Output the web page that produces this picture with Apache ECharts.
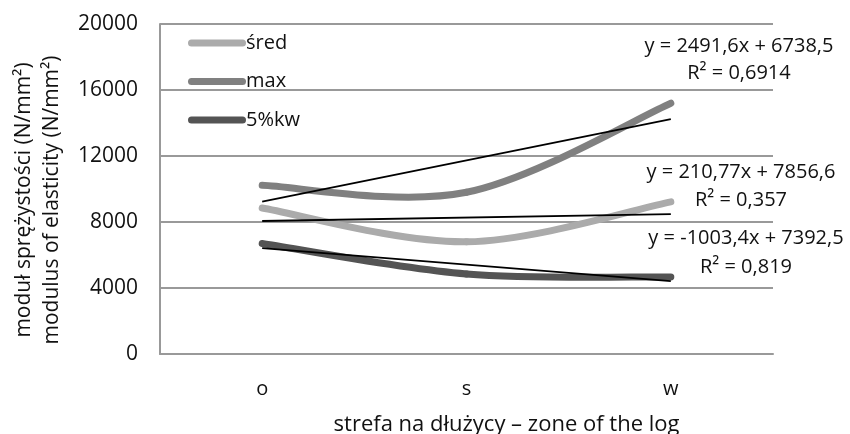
<!DOCTYPE html>
<html>
<head>
<meta charset="utf-8">
<script src="https://cdn.jsdelivr.net/npm/echarts@6/dist/echarts.min.js"></script>
<style>html,body{margin:0;padding:0;background:#fff}#c{width:850px;height:434px}</style>
</head>
<body>
<div id="c"></div>
<script>
const categories = ['o', 's', 'w'];
const seriesNames = ['śred', 'max', '5%kw'];
const sredValues = [8850, 6800, 9220];
const maxValues = [10220, 9800, 15200];
const kwValues = [6700, 4850, 4670];
const trendSred = [8060, '-', 8480];
const trendMax = [9230, '-', 14240];
const trendKw = [6420, '-', 4420];
const yMin = 0, yMax = 20000, yStep = 4000;
const eqMax = ['y = 2491,6x + 6738,5', 'R² = 0,6914'];
const eqSred = ['y = 210,77x + 7856,6', 'R² = 0,357'];
const eqKw = ['y = -1003,4x + 7392,5', 'R² = 0,819'];
const xTitle = 'strefa na dłużycy – zone of the log';
const yTitle = 'moduł sprężystości (N/mm²)\nmodulus of elasticity (N/mm²)';

const FONT = '"Open Sans", sans-serif';
const TXT = '#111';
const colors = ['#ababab', '#808080', '#545454'];

const chart = echarts.init(document.getElementById('c'), null, {renderer: 'canvas'});

// Smoothed curve (spreadsheet-style cardinal spline) drawn through the axis scales
function curve(name, values, color) {
  return {
    name, type: 'custom', coordinateSystem: 'cartesian2d',
    data: values.map((v, i) => [i, v]),
    itemStyle: {color},
    z: 2,
    renderItem: function (params, api) {
      if (params.dataIndex !== 0) return null;
      const pts = values.map((v, i) => api.coord([i, v]));
      const n = pts.length;
      const P = i => pts[Math.max(0, Math.min(n - 1, i))];
      const children = [];
      for (let i = 0; i < n - 1; i++) {
        const p0 = P(i - 1), p1 = P(i), p2 = P(i + 1), p3 = P(i + 2);
        children.push({
          type: 'bezierCurve',
          shape: {
            x1: p1[0], y1: p1[1], x2: p2[0], y2: p2[1],
            cpx1: p1[0] + (p2[0] - p0[0]) / 6, cpy1: p1[1] + (p2[1] - p0[1]) / 6,
            cpx2: p2[0] - (p3[0] - p1[0]) / 6, cpy2: p2[1] - (p3[1] - p1[1]) / 6
          },
          style: {stroke: color, lineWidth: 7, fill: null, lineCap: 'round', lineJoin: 'round'}
        });
      }
      return {type: 'group', children};
    }
  };
}
function trend(data) {
  return {
    type: 'line', data, connectNulls: true, showSymbol: false, symbol: 'none',
    lineStyle: {width: 1.8, color: '#000'}, z: 3, silent: true
  };
}
function eqText(lines, cx, y1, y2) {
  return [
    {type: 'text', x: cx, y: y1, style: {text: lines[0], align: 'center', verticalAlign: 'middle', font: '20px ' + FONT, fill: TXT}},
    {type: 'text', x: cx, y: y2, style: {text: lines[1], align: 'center', verticalAlign: 'middle', font: '20px ' + FONT, fill: TXT}}
  ];
}

chart.setOption({
  animation: false,
  backgroundColor: '#fff',
  grid: {left: 160, right: 77, top: 24, bottom: 80, containLabel: false, outerBoundsMode: 'none'},
  legend: {
    orient: 'vertical', left: 183, top: 28, itemWidth: 58, itemHeight: 7, itemGap: 18.5,
    icon: 'path://M3.5,0 L54.5,0 A3.5,3.5 0 0 1 54.5,7 L3.5,7 A3.5,3.5 0 0 1 3.5,0 Z',
    data: seriesNames,
    textStyle: {fontSize: 20, fontFamily: FONT, color: TXT, lineHeight: 20, padding: [0, 0, 0, -5]}
  },
  xAxis: {
    type: 'category', data: categories, boundaryGap: true,
    axisLine: {show: true, lineStyle: {color: '#999', width: 2}},
    axisTick: {show: false},
    axisLabel: {fontSize: 20, fontFamily: FONT, color: TXT, margin: 25},
    name: xTitle, nameLocation: 'middle', nameGap: 60,
    nameTextStyle: {fontSize: 22, fontFamily: FONT, color: TXT, padding: [0, 0, 0, 80]}
  },
  yAxis: {
    type: 'value', min: yMin, max: yMax, interval: yStep,
    axisLine: {show: true, lineStyle: {color: '#999', width: 2}},
    axisTick: {show: false},
    splitLine: {lineStyle: {color: '#999', width: 2}},
    axisLabel: {fontSize: 21, fontFamily: FONT, color: TXT, margin: 22, formatter: v => String(v)},
    name: yTitle, nameLocation: 'middle', nameGap: 94, nameRotate: 90,
    nameTextStyle: {fontSize: 21, fontFamily: FONT, color: TXT, lineHeight: 28, padding: [0, 22, 0, 0]}
  },
  series: [
    curve(seriesNames[0], sredValues, colors[0]),
    curve(seriesNames[1], maxValues, colors[1]),
    curve(seriesNames[2], kwValues, colors[2]),
    trend(trendSred), trend(trendMax), trend(trendKw)
  ],
  graphic: [].concat(
    eqText(eqMax, 739, 46, 73),
    eqText(eqSred, 741, 172, 200),
    eqText(eqKw, 746, 238, 267)
  )
});
</script>
</body>
</html>
